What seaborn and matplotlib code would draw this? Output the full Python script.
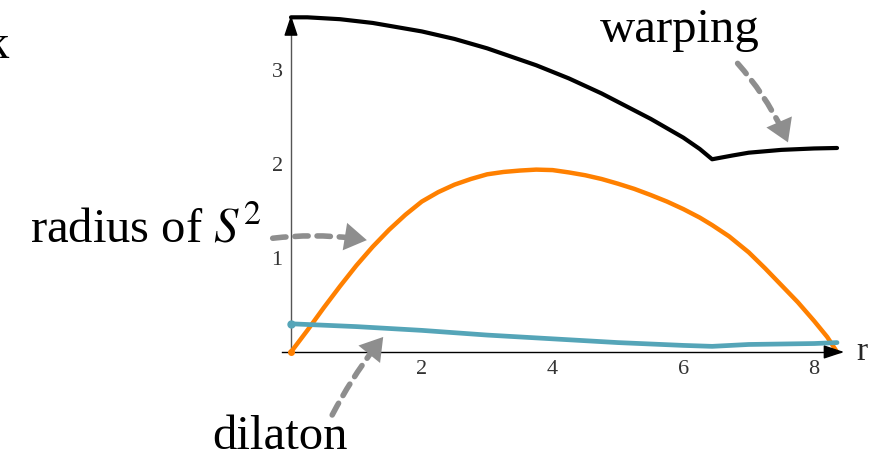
import matplotlib
matplotlib.use("Agg")
import matplotlib.pyplot as plt
import seaborn as sns

# radial coordinate samples and profile values
r_warp = [0, 0.25, 0.5, 0.75, 1, 1.25, 1.5, 1.75, 2, 2.25, 2.5, 2.75, 3, 3.25, 3.5, 3.75,
          4, 4.25, 4.5, 4.75, 5, 5.25, 5.5, 5.75, 6, 6.25, 6.44, 6.75, 7, 7.5, 8, 8.35]
warping = [3.56, 3.56, 3.55, 3.54, 3.52, 3.50, 3.47, 3.44, 3.41, 3.37, 3.33, 3.28, 3.23, 3.17, 3.11, 3.05,
           2.98, 2.91, 2.83, 2.75, 2.66, 2.57, 2.48, 2.38, 2.28, 2.16, 2.05, 2.09, 2.12, 2.15, 2.165, 2.17]

r_rad = [0, 0.25, 0.5, 0.75, 1, 1.25, 1.5, 1.75, 2, 2.25, 2.5, 2.75, 3, 3.25, 3.5, 3.75,
         4, 4.25, 4.5, 4.75, 5, 5.25, 5.5, 5.75, 6, 6.25, 6.44, 6.7, 7, 7.25, 7.5, 7.75, 8, 8.2, 8.35]
radius = [0, 0.23, 0.47, 0.70, 0.92, 1.12, 1.30, 1.46, 1.60, 1.70, 1.78, 1.84, 1.89, 1.915, 1.93, 1.94,
          1.935, 1.91, 1.88, 1.84, 1.79, 1.735, 1.67, 1.60, 1.52, 1.43, 1.35, 1.23, 1.06, 0.89, 0.71, 0.53, 0.33, 0.16, 0]

r_dil = [0, 1, 2, 3, 4, 5, 6, 6.44, 7, 8, 8.35]
dilaton = [0.30, 0.27, 0.23, 0.18, 0.14, 0.10, 0.07, 0.06, 0.08, 0.09, 0.10]

xticks = [2, 4, 6, 8]
yticks = [1, 2, 3]

sns.set_style("white")
plt.rcParams["font.family"] = ["Liberation Serif", "DejaVu Serif"]
plt.rcParams["mathtext.fontset"] = "stix"

fig = plt.figure(figsize=(8.86, 4.55), dpi=100)
ax = fig.add_axes([0.3063, 0.1954, 0.6827, 0.7996])
ax.set_xlim(-0.3, 8.95)
ax.set_ylim(-0.15, 3.72)

sns.lineplot(x=r_rad, y=radius, color="#FF8000", lw=3.2, ax=ax, zorder=3)
sns.lineplot(x=r_dil, y=dilaton, color="#55A5B8", lw=3.4, ax=ax, zorder=3)
sns.lineplot(x=r_warp, y=warping, color="black", lw=3.0, ax=ax, zorder=4)
ax.plot([r_dil[0]], [dilaton[0]], "o", color="#55A5B8", ms=5, zorder=4)
ax.plot([r_rad[0]], [radius[0]], "o", color="#FF8000", ms=4, zorder=4)

# axes through the origin with arrowheads
for s in ["top", "right"]:
    ax.spines[s].set_visible(False)
ax.spines["left"].set_position(("data", 0))
ax.spines["bottom"].set_position(("data", 0))
ax.spines["left"].set_bounds(0, 3.55)
ax.spines["bottom"].set_bounds(-0.14, 8.4)
ax.spines["left"].set_color("#555555")
ax.spines["bottom"].set_color("black")
ax.spines["left"].set_linewidth(1.0)
ax.spines["bottom"].set_linewidth(1.0)
ax.annotate("", xy=(8.5, 0), xytext=(8.3, 0),
            arrowprops=dict(arrowstyle="-|>,head_length=0.9,head_width=0.3",
                            color="black", lw=1, mutation_scale=14), zorder=5)
ax.annotate("", xy=(0, 3.61), xytext=(0, 3.45),
            arrowprops=dict(arrowstyle="-|>,head_length=0.9,head_width=0.3",
                            color="black", lw=1, mutation_scale=14), zorder=5)

ax.set_xticks(xticks)
ax.set_yticks(yticks)
ax.set_xticklabels([str(t) for t in xticks])
ax.set_yticklabels([str(t) for t in yticks])
ax.tick_params(axis="both", direction="in", length=6, width=0.8,
               labelsize=16, colors="#333333", pad=6)
ax.set_xlabel("")
ax.set_ylabel("")

ax.text((862 - 291) / 65.4, 0, "r", fontsize=24, va="center", ha="center", clip_on=False)

# annotations
txt = dict(fontsize=35, va="baseline", clip_on=False, color="black")
ax.text(4.72, 3.30, "warping", ha="left", **txt)
ax.text(-3.99, 1.16, "radius of $S^2$", ha="left", **txt)
ax.text(-1.21, -1.03, "dilaton", ha="left", **txt)
ax.text(-4.33, 3.13, "k", ha="right", **txt)

gray = "#8E8E8E"
def dashed_arrow(start, end, rad):
    conn = f"arc3,rad={rad}"
    # dashed shaft
    ax.annotate("", xy=end, xytext=start,
                arrowprops=dict(arrowstyle="-", color=gray, lw=4.0,
                                linestyle=(0, (2.4, 1.6)), shrinkA=0, shrinkB=10,
                                connectionstyle=conn),
                annotation_clip=False, zorder=6)
    # solid head
    ax.annotate("", xy=end, xytext=start,
                arrowprops=dict(arrowstyle="-|>,head_length=0.8,head_width=0.5",
                                color=gray, lw=0, mutation_scale=20,
                                shrinkA=0, shrinkB=0, connectionstyle=conn),
                annotation_clip=False, zorder=6)

dashed_arrow((6.83, 3.07), (7.60, 2.23), -0.08)
dashed_arrow((-0.28, 1.21), (1.16, 1.19), -0.07)
dashed_arrow((0.63, -0.67), (1.41, 0.16), -0.05)

fig.savefig("out.png", dpi=100)
